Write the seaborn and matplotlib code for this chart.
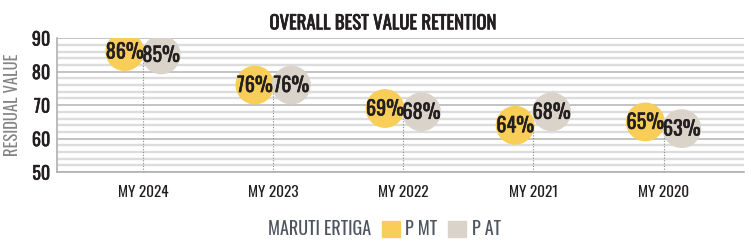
import numpy as np
import pandas as pd
import matplotlib
matplotlib.use("Agg")
import matplotlib.pyplot as plt
import matplotlib.patheffects as pe
from matplotlib.patches import Patch
import seaborn as sns

# data
years = ["MY 2024", "MY 2023", "MY 2022", "MY 2021", "MY 2020"]
p_mt = [86, 76, 69, 64, 65]
p_at = [85, 76, 68, 68, 63]

YELLOW = "#F8CD58"
GREY = "#D9D3C9"
INK = "#231F20"
FONT = ["Oswald", "Barlow Condensed", "DejaVu Sans"]

sns.set_theme(style="white")
plt.rcParams["font.family"] = FONT

# thicken the regular cut a little, the reference uses a medium weight
heavy = [pe.withStroke(linewidth=0.35, foreground=INK)]

pos = np.arange(len(years))
off = 0.14
df = pd.DataFrame({
    "x": np.concatenate([pos - off, pos + off]),
    "value": p_mt + p_at,
    "variant": ["P MT"] * len(years) + ["P AT"] * len(years),
})

fig = plt.figure(figsize=(7.51, 2.46), dpi=100)
ax = fig.add_axes([0.076, 0.30, 0.915, 0.545])

# grid: minor every 2, major every 10
for v in range(50, 91, 2):
    major = v % 10 == 0
    ax.axhline(v, color="#B3B3B3" if major else "#DCDCDC",
               lw=1.1 if major else 1.7, zorder=0)

# dotted drop lines from the axis up to the bubbles
for i in range(len(years)):
    ax.plot([pos[i], pos[i]], [50, min(p_mt[i], p_at[i])], ls=(0, (1, 1.5)),
            color="#8A8A8A", lw=0.8, zorder=1)

sns.scatterplot(data=df, x="x", y="value", hue="variant",
                palette={"P MT": YELLOW, "P AT": GREY},
                s=780, linewidth=0, legend=False, ax=ax, zorder=3)

for _, r in df.iterrows():
    ax.text(r["x"], r["value"], f"{r['value']}%", ha="center", va="center",
            fontsize=14.5, color=INK, zorder=4, path_effects=heavy)

ax.set_xlim(-0.66, 4.62)
ax.set_ylim(50, 90)
ax.set_xticks(pos)
ax.set_xticklabels(years, fontsize=11, fontweight=300, color=INK)
ax.set_yticks(range(50, 91, 10))
ax.set_yticklabels([str(v) for v in range(50, 91, 10)], fontsize=13,
                   color=INK, path_effects=heavy)
ax.tick_params(axis="x", length=4, color="#999999", pad=5)
ax.tick_params(axis="y", length=3, color="#999999", pad=2)
ax.set_xlabel("")
ax.set_ylabel("RESIDUAL VALUE", fontsize=12, fontweight=300,
              color="#858585", labelpad=8)
for s in ["top", "right"]:
    ax.spines[s].set_visible(False)
for s in ["left", "bottom"]:
    ax.spines[s].set_color("#B0B0B0")
    ax.spines[s].set_linewidth(1.2)

fig.text(0.509, 0.905, "OVERALL BEST VALUE RETENTION", ha="center",
         va="center", fontsize=13.5, color=INK,
         path_effects=[pe.withStroke(linewidth=0.5, foreground=INK)])

fig.text(0.357, 0.07, "MARUTI ERTIGA", ha="left", va="center",
         fontsize=13, fontweight=300, color="#4F5560")
handles = [Patch(color=YELLOW, label="P MT"), Patch(color=GREY, label="P AT")]
fig.legend(handles=handles, loc="center left", bbox_to_anchor=(0.487, 0.07),
           ncol=2, frameon=False, handlelength=1.0, handleheight=1.0,
           handletextpad=0.3, columnspacing=0.6,
           prop={"family": FONT, "size": 13, "weight": 300},
           labelcolor="#4F5560")

fig.savefig("out.png", dpi=100)
